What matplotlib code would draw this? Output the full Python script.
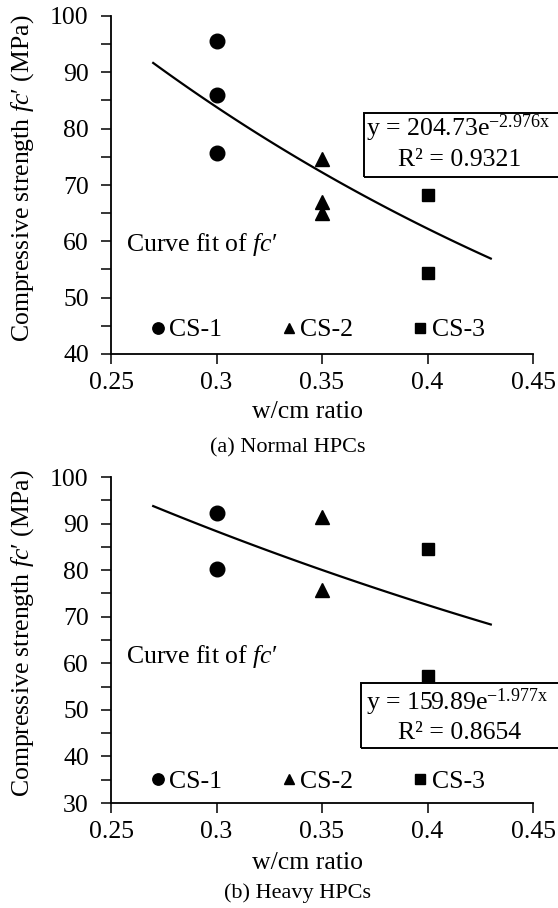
import numpy as np
import matplotlib
matplotlib.use("Agg")
from matplotlib import pyplot as plt
from matplotlib.patches import Rectangle

plt.rcParams['font.family'] = ['Liberation Serif', 'DejaVu Serif']
plt.rcParams['mathtext.fontset'] = 'custom'
plt.rcParams['mathtext.rm'] = 'Liberation Serif'
plt.rcParams['mathtext.it'] = 'Liberation Serif:italic'

# (a) Normal HPCs
a_cs1_x = [0.3, 0.3, 0.3]
a_cs1_y = [95.6, 85.9, 75.7]
a_cs2_x = [0.35, 0.35, 0.35]
a_cs2_y = [74.6, 67.0, 65.1]
a_cs3_x = [0.4, 0.4]
a_cs3_y = [68.3, 54.3]
a_fit = (204.73, -2.976)
a_r2 = 0.9321

# (b) Heavy HPCs
b_cs1_x = [0.3, 0.3]
b_cs1_y = [92.3, 80.2]
b_cs2_x = [0.35, 0.35]
b_cs2_y = [91.4, 75.7]
b_cs3_x = [0.4, 0.4]
b_cs3_y = [84.5, 57.2]
b_fit = (159.89, -1.977)
b_r2 = 0.8654

fit_range = (0.27, 0.43)
xticks = [0.25, 0.3, 0.35, 0.4, 0.45]
xticklabels = ['0.25', '0.3', '0.35', '0.4', '0.45']

FS = 18.5


def draw_panel(ax, cs1, cs2, cs3, fit, r2, ylim, box, eq_y, curve_y, leg_y, xlab_y):
    ax.plot(cs1[0], cs1[1], 'o', color='black', ms=10.5, ls='none', label='CS-1', zorder=3)
    ax.plot(cs2[0], cs2[1], '^', color='black', ms=10, ls='none', label='CS-2', zorder=3)
    ax.plot(cs3[0], cs3[1], 's', color='black', ms=9, ls='none', label='CS-3', zorder=3)

    xs = np.linspace(fit_range[0], fit_range[1], 60)
    ax.plot(xs, fit[0] * np.exp(fit[1] * xs), color='black', lw=1.6)

    ax.set_xlim(0.25, 0.45)
    ax.set_ylim(*ylim)
    ax.set_xticks(xticks)
    ax.set_xticklabels(xticklabels)
    ax.set_yticks(np.arange(ylim[0], ylim[1] + 1, 10))
    ax.set_yticks(np.arange(ylim[0], ylim[1] + 1, 5), minor=True)
    ax.tick_params(axis='both', which='both', direction='out', length=7,
                   width=1.1, color='black', labelsize=FS)
    ax.tick_params(axis='y', which='major', pad=9)
    ax.tick_params(axis='x', which='major', pad=6)
    for s in ['top', 'right']:
        ax.spines[s].set_visible(False)
    for s in ['left', 'bottom']:
        ax.spines[s].set_linewidth(1.3)

    ax.set_xlabel('w/cm ratio', fontsize=FS)
    ax.xaxis.label.set_va('center')
    ax.xaxis.set_label_coords(0.465, xlab_y)
    ax.set_ylabel('Compressive strength $\\mathit{fc}$\u2032 (MPa)', fontsize=FS)
    ax.yaxis.label.set_va('center')
    ax.yaxis.set_label_coords(-0.21, 0.52)

    # trendline equation box
    ax.add_patch(Rectangle((box[0], box[1]), 1.0, box[2], transform=ax.transAxes,
                           fill=False, ec='black', lw=1.4, clip_on=False, zorder=1))
    ax.text(0.605, eq_y[0], 'y = %.2fe$^{\\mathrm{%.3fx}}$' % (fit[0], fit[1]),
            transform=ax.transAxes, ha='left', va='center', fontsize=FS)
    ax.text(0.827, eq_y[1], 'R\u00b2 = %.4f' % r2,
            transform=ax.transAxes, ha='center', va='center', fontsize=FS)

    ax.text(0.035, curve_y, 'Curve fit of $\\mathit{fc}$\u2032',
            transform=ax.transAxes, ha='left', va='center', fontsize=FS)

    ax.legend(loc='center left', bbox_to_anchor=(0.092, leg_y), ncol=3,
              frameon=False, fontsize=FS, handlelength=0.6, handletextpad=0.15,
              columnspacing=2.3, markerscale=0.78, borderpad=0, borderaxespad=0)


fig = plt.figure(figsize=(5.58, 9.08), dpi=100)
ax1 = fig.add_axes([111 / 558, 1 - 354 / 908, 422 / 558, 338 / 908])
ax2 = fig.add_axes([111 / 558, 1 - 803 / 908, 422 / 558, 326 / 908])

draw_panel(ax1, (a_cs1_x, a_cs1_y), (a_cs2_x, a_cs2_y), (a_cs3_x, a_cs3_y),
           a_fit, a_r2, (40, 100), (0.5995, 0.5237, 0.189), (0.669, 0.574),
           0.325, 0.071, -0.172)
draw_panel(ax2, (b_cs1_x, b_cs1_y), (b_cs2_x, b_cs2_y), (b_cs3_x, b_cs3_y),
           b_fit, b_r2, (30, 100), (0.592, 0.169, 0.199), (0.310, 0.215),
           0.448, 0.067, -0.184)

fig.text(288 / 558, 1 - 448 / 908, '(a) Normal HPCs', ha='center', va='center', fontsize=16)
fig.text(297 / 558, 1 - 893 / 908, '(b) Heavy HPCs', ha='center', va='center', fontsize=16)

fig.savefig('out.png', dpi=100)
